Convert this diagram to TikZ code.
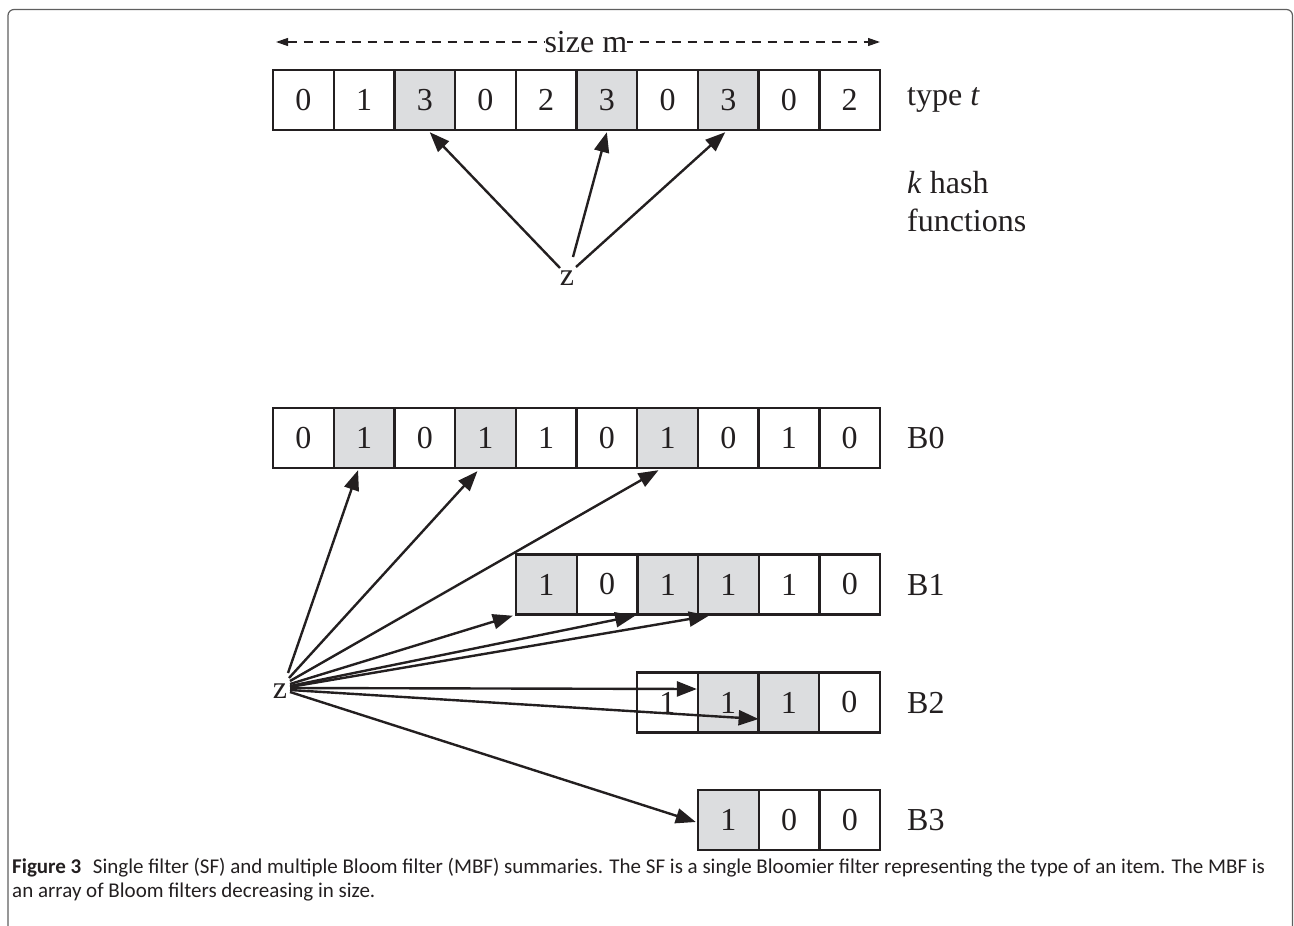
\documentclass[tikz,border=0pt]{standalone}
\usepackage{fontspec}
\setmainfont{Liberation Serif}
\newfontfamily\capfont{Carlito}
\usetikzlibrary{arrows.meta}
\definecolor{ink}{RGB}{35,31,32}
\definecolor{hitgray}{RGB}{220,221,223}
\definecolor{framegray}{RGB}{95,95,95}

\begin{document}
\begin{tikzpicture}[x=1pt,y=-1pt,
  cell/.style={draw=ink, line width=2.4pt, minimum width=60.7pt, minimum height=60pt,
    inner sep=0pt, font=\fontsize{32}{38}\selectfont, text=ink},
  hit/.style={cell, fill=hitgray},
  lbl/.style={inner sep=0pt, font=\fontsize{32}{38}\selectfont, text=ink, align=left},
  hasharrow/.style={draw=ink, line width=2.4pt, -{Triangle[length=20pt,width=15pt]}},
  sizearrow/.style={draw=ink, line width=1.2pt, dash pattern=on 9pt off 7pt,
    {Triangle[length=12pt,width=8pt]}-{Triangle[length=12pt,width=8pt]}},
  caption/.style={anchor=base west, inner sep=0pt, text=ink, font=\capfont\fontsize{21}{23}\selectfont},
  ]
\useasboundingbox (0,0) rectangle (1294,926);
\clip (0,0) rectangle (1294,926);

% figure frame (open at the bottom)
\draw[framegray, line width=1.2pt, rounded corners=6pt]
  (8,960) -- (8,9.5) -- (1292.5,9.5) -- (1292.5,960);

% ---------------- single Bloomier filter ----------------
\coordinate (sizeL) at (276,42);
\coordinate (sizeR) at (880,42);
\draw[sizearrow] (sizeL) -- (sizeR)
  node[pos=0.513, fill=white, inner xsep=1pt, inner ysep=0pt, lbl] (sizelbl) {size m};

\foreach \v/\s [count=\i from 0] in {0/cell,1/cell,3/hit,0/cell,2/cell,3/hit,0/cell,3/hit,0/cell,2/cell}
  \node[\s] (t\i) at ({273+60.7*(\i+0.5)},100) {\v};

\node[lbl, anchor=west] (typet) at (907,100) {type \textit{t}};
\node[lbl, anchor=west] (khash) at (907,202) {\textit{k} hash\\functions};

\node[lbl, anchor=base] (z1) at (567,285) {z};
\draw[hasharrow] ([shift={(-7,-17)}]z1.base) -- ([xshift=5pt,yshift=-1pt]t2.south);
\draw[hasharrow] ([shift={(6,-28)}]z1.base) -- ([yshift=-1pt]t5.south);
\draw[hasharrow] ([shift={(9,-18)}]z1.base) -- ([xshift=-3pt,yshift=-1pt]t7.south);

% ---------------- multiple Bloom filters ----------------
\foreach \v/\s [count=\i from 0] in {0/cell,1/hit,0/cell,1/hit,1/cell,0/cell,1/hit,0/cell,1/cell,0/cell}
  \node[\s] (a\i) at ({273+60.7*(\i+0.5)},438) {\v};
\foreach \v/\s [count=\i from 0] in {1/hit,0/cell,1/hit,1/hit,1/cell,0/cell}
  \node[\s] (b\i) at ({516+60.7*(\i+0.5)},584.5) {\v};
\foreach \v/\s [count=\i from 0] in {1/cell,1/hit,1/hit,0/cell}
  \node[\s] (c\i) at ({637+60.7*(\i+0.5)},702.5) {\v};
\foreach \v/\s [count=\i from 0] in {1/hit,0/cell,0/cell}
  \node[\s] (d\i) at ({698+60.7*(\i+0.5)},820) {\v};

\node[lbl, anchor=west] (B0) at (907,438) {B0};
\node[lbl, anchor=west] (B1) at (907,584.5) {B1};
\node[lbl, anchor=west] (B2) at (907,702.5) {B2};
\node[lbl, anchor=west] (B3) at (907,820) {B3};

\node[lbl, anchor=base] (z2) at (280,698) {z};
\draw[hasharrow] ([shift={(8,-25)}]z2.base) -- ([xshift=-6pt,yshift=-1pt]a1.south);
\draw[hasharrow] ([shift={(9,-20)}]z2.base) -- ([xshift=-8pt,yshift=-2pt]a3.south);
\draw[hasharrow] ([shift={(10,-17)}]z2.base) -- ([xshift=-9pt,yshift=-1pt]a6.south);
\draw[hasharrow] ([shift={(10,-14)}]z2.base) -- ([xshift=-2pt]b0.south west);
\draw[hasharrow] ([shift={(10,-12)}]z2.base) -- ([xshift=-1pt]b2.south west);
\draw[hasharrow] ([shift={(10,-11)}]z2.base) -- ([xshift=12pt]b3.south west);
\draw[hasharrow] ([shift={(10,-10)}]z2.base) -- ([xshift=-2pt,yshift=13.5pt]c0.east);
\draw[hasharrow] ([shift={(10,-8)}]z2.base) -- ([xshift=-1pt,yshift=-16.5pt]c1.east);
\draw[hasharrow] ([shift={(10,-6)}]z2.base) -- ([xshift=-1pt,yshift=-2pt]d0.west);

% ---------------- caption ----------------
\node[caption] (cap1) at (12,873) {\textbf{Figure 3}\hspace{0.55em}Single filter (SF) and multiple Bloom filter (MBF) summaries. The SF is a single Bloomier filter representing the type of an item. The MBF is};
\node[caption] (cap2) at (12,897) {an array of Bloom filters decreasing in size.};
\end{tikzpicture}
\end{document}
